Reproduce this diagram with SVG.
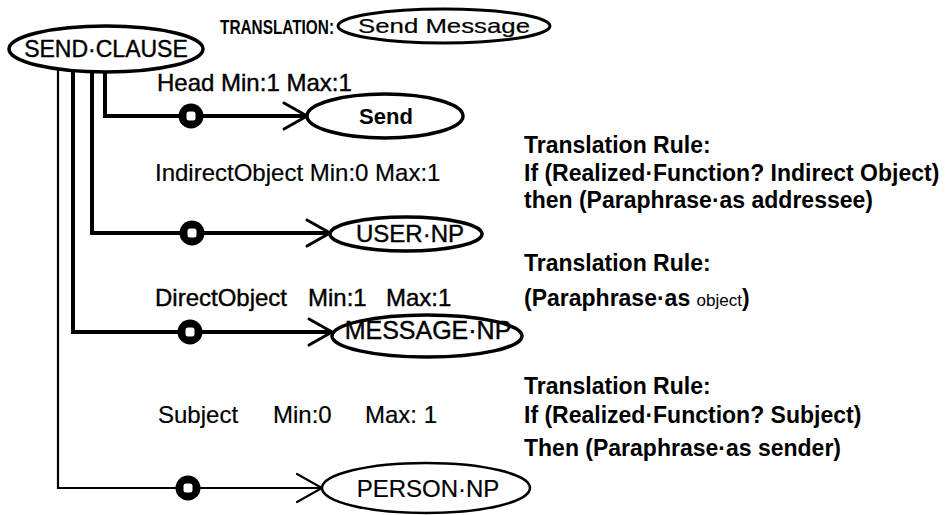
<svg xmlns="http://www.w3.org/2000/svg" width="946" height="515" viewBox="0 0 946 515">
<style>
.bg{fill:#fff}
.node{fill:#fff;stroke:#000;stroke-width:3.5}
.thin{stroke-width:2.5}
.lbl{font-family:"Liberation Sans",Arial,sans-serif;font-size:24px;fill:#000;stroke:#000;stroke-width:0.4}
.nl{font-family:"Liberation Sans",Arial,sans-serif;font-size:24px;fill:#000;stroke:#000;stroke-width:0.4;text-anchor:middle}
.rule{font-family:"Liberation Sans",Arial,sans-serif;font-size:23px;font-weight:bold;fill:#000}
.wire{fill:none;stroke:#000;stroke-width:4;stroke-linejoin:miter}
.arm{fill:none;stroke:#000;stroke-width:3;stroke-linecap:round}
.knob{fill:#000}
.hole{fill:#fff}
</style>
<rect class="bg" x="0" y="0" width="946" height="515"/>
<g id="connectors">
  <path class="wire" d="M105,72 V116 H307"/>
  <path class="wire" d="M92,72 V233 H330"/>
  <path class="wire" d="M73,72 V332 H332"/>
  <path class="wire" style="stroke-width:2.2" d="M58,70 V488 H322"/>
  <path class="arm" d="M284,103 L307,116 L284,129"/>
  <path class="arm" d="M307,220 L330,233 L307,246"/>
  <path class="arm" d="M309,319 L332,332 L309,345"/>
  <path class="arm" style="stroke-width:2.2" d="M297,474 L322,488 L297,502"/>
  <g id="knob-head"><circle class="knob" cx="191" cy="116" r="12.5"/><rect class="hole" x="186.5" y="111.5" width="9" height="9" rx="2.5"/></g>
  <g id="knob-indirect"><circle class="knob" cx="192" cy="233" r="12.5"/><rect class="hole" x="187.5" y="228.5" width="9" height="9" rx="2.5"/></g>
  <g id="knob-direct"><circle class="knob" cx="190" cy="332" r="12.5"/><rect class="hole" x="185.5" y="327.5" width="9" height="9" rx="2.5"/></g>
  <g id="knob-subject"><circle class="knob" cx="188" cy="488" r="12.5"/><rect class="hole" x="183.5" y="483.5" width="9" height="9" rx="2.5"/></g>
</g>
<g id="send-clause">
  <ellipse class="node" cx="106" cy="49" rx="97" ry="23"/>
  <text class="nl" x="106" y="57" style="font-size:23px">SEND·CLAUSE</text>
</g>
<g id="translation">
  <text class="rule" x="220" y="34" style="font-size:20px" textLength="114" lengthAdjust="spacingAndGlyphs">TRANSLATION:</text>
  <ellipse class="node" cx="444" cy="26" rx="106" ry="17" style="stroke-width:3"/>
  <text class="nl" x="444" y="33" style="font-size:21px;stroke-width:0.2" textLength="172" lengthAdjust="spacingAndGlyphs">Send Message</text>
</g>
<g id="send">
  <ellipse class="node" cx="385" cy="116" rx="78" ry="22"/>
  <text class="nl" x="386" y="124" style="font-size:22px;font-weight:bold;stroke-width:0">Send</text>
</g>
<g id="user-np">
  <ellipse class="node" cx="406" cy="234" rx="76" ry="17"/>
  <text class="nl" x="410" y="242">USER·NP</text>
</g>
<g id="message-np">
  <ellipse class="node" cx="427" cy="336" rx="95" ry="21"/>
  <text class="nl" x="428" y="339" style="font-size:25px">MESSAGE·NP</text>
</g>
<g id="person-np">
  <ellipse class="node thin" cx="426" cy="488" rx="104" ry="25"/>
  <text class="nl" x="428" y="497" style="stroke-width:0.2">PERSON·NP</text>
</g>
<g id="labels">
  <text class="lbl" x="157" y="91">Head Min:1 Max:1</text>
  <text class="lbl" x="155" y="181" style="stroke-width:0.2">IndirectObject Min:0 Max:1</text>
  <text class="lbl" x="155" y="306">DirectObject</text>
  <text class="lbl" x="308" y="306">Min:1</text>
  <text class="lbl" x="386" y="306">Max:1</text>
  <text class="lbl" x="158" y="423" style="stroke-width:0.2">Subject</text>
  <text class="lbl" x="273" y="423" style="stroke-width:0.2">Min:0</text>
  <text class="lbl" x="365" y="423" style="stroke-width:0.2">Max: 1</text>
</g>
<g id="rules">
  <text class="rule" x="524" y="153">Translation Rule:</text>
  <text class="rule" x="524" y="181">If (Realized·Function? Indirect Object)</text>
  <text class="rule" x="524" y="208">then (Paraphrase·as addressee)</text>
  <text class="rule" x="524" y="271">Translation Rule:</text>
  <text class="rule" x="524" y="306">(Paraphrase·as <tspan style="font-size:17px;font-weight:normal">object</tspan>)</text>
  <text class="rule" x="524" y="394">Translation Rule:</text>
  <text class="rule" x="524" y="423">If (Realized·Function?  Subject)</text>
  <text class="rule" x="524" y="456">Then (Paraphrase·as sender)</text>
</g>
</svg>
